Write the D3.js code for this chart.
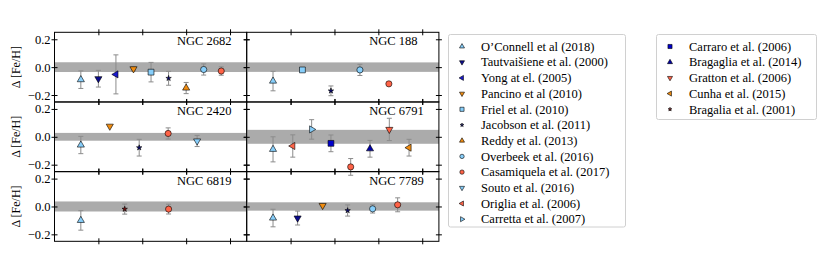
<!DOCTYPE html>
<html>
<head>
<meta charset="utf-8">
<script src="https://cdn.jsdelivr.net/npm/d3@7"></script>
<style>
  body { margin: 0; background: #fff; }
  svg text { font-family: "Liberation Serif", serif; }
</style>
</head>
<body>
<div id="chart"></div>
<script>
// studies, in legend order
var studyKeys = ["oconnell", "tautvaisiene", "yong", "pancino", "friel", "jacobson",
  "reddy", "overbeek", "casamiquela", "souto", "origlia", "carretta",
  "carraro", "bragaglia14", "gratton", "cunha", "bragalia01"];
var studyLabels = ["O’Connell et al (2018)", "Tautvaišiene et al. (2000)", "Yong at el. (2005)",
  "Pancino et al (2010)", "Friel et al. (2010)", "Jacobson et al. (2011)", "Reddy et al. (2013)",
  "Overbeek et al. (2016)", "Casamiquela et al. (2017)", "Souto et al. (2016)",
  "Origlia et al. (2006)", "Carretta et al. (2007)", "Carraro et al. (2006)",
  "Bragaglia et al. (2014)", "Gratton et al. (2006)", "Cunha et al. (2015)", "Bragalia et al. (2001)"];

var clusters = ["NGC 2682", "NGC 188", "NGC 2420", "NGC 6791", "NGC 6819", "NGC 7789"];
// half width of the grey band around zero, per cluster
var bandHalf = [0.035, 0.034, 0.028, 0.05, 0.036, 0.03];

// [study, x position, delta [Fe/H], error]
var ngc2682 = [["oconnell", 0.6, -0.09, 0.063], ["tautvaisiene", 1.0, -0.083, 0.06],
  ["yong", 1.4, -0.052, 0.14], ["pancino", 1.8, -0.012, 0.015], ["friel", 2.2, -0.036, 0.07],
  ["jacobson", 2.6, -0.08, 0.05], ["reddy", 3.0, -0.15, 0.04], ["overbeek", 3.4, -0.017, 0.04],
  ["casamiquela", 3.8, -0.028, 0.03]];
var ngc188 = [["oconnell", 0.6, -0.10, 0.07], ["friel", 1.27, -0.02, 0],
  ["jacobson", 1.92, -0.17, 0.035], ["overbeek", 2.58, -0.02, 0.04], ["casamiquela", 3.24, -0.12, 0]];
var ngc2420 = [["oconnell", 0.6, -0.059, 0.062], ["pancino", 1.26, 0.076, 0],
  ["jacobson", 1.93, -0.078, 0.06], ["casamiquela", 2.59, 0.024, 0.04], ["souto", 3.25, -0.03, 0.04]];
var ngc6791 = [["oconnell", 0.6, -0.09, 0.09], ["origlia", 1.05, -0.066, 0.08],
  ["carretta", 1.48, 0.053, 0.07], ["carraro", 1.92, -0.047, 0.06], ["casamiquela", 2.37, -0.216, 0.06],
  ["bragaglia14", 2.81, -0.086, 0.06], ["gratton", 3.25, 0.053, 0.08], ["cunha", 3.70, -0.078, 0.06]];
var ngc6819 = [["oconnell", 0.6, -0.10, 0.07], ["bragalia01", 1.6, -0.019, 0.036],
  ["casamiquela", 2.6, -0.019, 0.035]];
var ngc7789 = [["oconnell", 0.6, -0.083, 0.063], ["tautvaisiene", 1.16, -0.083, 0.05],
  ["pancino", 1.73, 0.007, 0], ["jacobson", 2.30, -0.029, 0.04], ["overbeek", 2.87, -0.017, 0.03],
  ["casamiquela", 3.44, 0.012, 0.05]];
var clusterData = [ngc2682, ngc188, ngc2420, ngc6791, ngc6819, ngc7789];

var yTicks = [-0.2, 0.0, 0.2];
var xTicks = [1, 2, 3, 4];

// marker styles
var style = {
  oconnell:     {shape: "tri", rot: 0,   fill: "#87cefa"},
  tautvaisiene: {shape: "tri", rot: 180, fill: "#0b0b8c"},
  yong:         {shape: "tri", rot: -90, fill: "#1a1acc"},
  pancino:      {shape: "tri", rot: 180, fill: "#f08c10"},
  friel:        {shape: "sq",  rot: 0,   fill: "#87cefa"},
  jacobson:     {shape: "star",rot: 0,   fill: "#0a0a70"},
  reddy:        {shape: "tri", rot: 0,   fill: "#f08c10"},
  overbeek:     {shape: "circ",rot: 0,   fill: "#87cefa"},
  casamiquela:  {shape: "circ",rot: 0,   fill: "#ff6347"},
  souto:        {shape: "tri", rot: 180, fill: "#87cefa"},
  origlia:      {shape: "tri", rot: -90, fill: "#ff6347"},
  carretta:     {shape: "tri", rot: 90,  fill: "#87cefa"},
  carraro:      {shape: "sq",  rot: 0,   fill: "#0000cc"},
  bragaglia14:  {shape: "tri", rot: 0,   fill: "#0000a8"},
  gratton:      {shape: "tri", rot: 180, fill: "#ff6347"},
  cunha:        {shape: "tri", rot: -90, fill: "#f08c10"},
  bragalia01:   {shape: "star",rot: 0,   fill: "#7a1010"}
};
var symType = {tri: d3.symbolTriangle, sq: d3.symbolSquare, star: d3.symbolStar, circ: d3.symbolCircle};
var symSize = {tri: 22, sq: 34, star: 9, circ: 30};

var W = 830, H = 275;
var svg = d3.select("#chart").append("svg").attr("width", W).attr("height", H);
svg.append("rect").attr("width", W).attr("height", H).attr("fill", "#fff");

var left0 = 54.5, panelW = 192.2, top0 = 32.3, panelH = 69.67;

var x = d3.scaleLinear().domain([0, 4.38]).range([0, panelW]);
var y = d3.scaleLinear().domain([-0.25, 0.25]).range([panelH, 0]);

function marker(sel, key, scale) {
  var s = style[key];
  sel.append("path")
    .attr("d", d3.symbol().type(symType[s.shape]).size(symSize[s.shape] * scale)())
    .attr("transform", "rotate(" + s.rot + ")")
    .attr("fill", s.fill)
    .attr("stroke", "#000")
    .attr("stroke-width", 0.6);
}

clusters.forEach(function(name, i) {
  var col = i % 2, row = Math.floor(i / 2);
  var g = svg.append("g")
    .attr("transform", "translate(" + (left0 + col * panelW) + "," + (top0 + row * panelH) + ")");

  g.append("rect")
    .attr("x", 0).attr("width", panelW)
    .attr("y", y(bandHalf[i])).attr("height", y(-bandHalf[i]) - y(bandHalf[i]))
    .attr("fill", "#ababab");

  // error bars
  var pts = clusterData[i];
  pts.filter(function(d) { return d[3] > 0; }).forEach(function(d) {
    var px = x(d[1]), y1 = y(d[2] + d[3]), y2 = y(d[2] - d[3]);
    var eb = g.append("g").attr("stroke", "#8c8c8c").attr("stroke-width", 1);
    eb.append("line").attr("x1", px).attr("x2", px).attr("y1", y1).attr("y2", y2);
    eb.append("line").attr("x1", px - 2.5).attr("x2", px + 2.5).attr("y1", y1).attr("y2", y1);
    eb.append("line").attr("x1", px - 2.5).attr("x2", px + 2.5).attr("y1", y2).attr("y2", y2);
  });

  pts.forEach(function(d) {
    var m = g.append("g").attr("transform", "translate(" + x(d[1]) + "," + y(d[2]) + ")");
    marker(m, d[0], 1);
  });

  // axes: inout ticks on all four sides
  var ax = [
    d3.axisLeft(y).tickValues(yTicks),
    d3.axisRight(y).tickValues(yTicks).tickFormat(""),
    d3.axisBottom(x).tickValues(xTicks).tickFormat(""),
    d3.axisTop(x).tickValues(xTicks).tickFormat("")
  ];
  var pos = ["translate(0,0)", "translate(" + panelW + ",0)", "translate(0," + panelH + ")", "translate(0,0)"];
  ax.forEach(function(a, k) {
    var ag = g.append("g").attr("transform", pos[k])
      .call(a.tickSizeInner(3).tickSizeOuter(0).tickPadding(4));
    ag.attr("font-family", null);
    ag.select(".domain").remove();
    ag.selectAll(".tick line")
      .attr(k < 2 ? "x1" : "y1", k === 0 || k === 3 ? 3 : -3)
      .attr("stroke", "#000");
    ag.selectAll("text")
      .style("font-size", "12.5px")
      .attr("fill", "#000");
    if (col === 1 || k > 0) ag.selectAll("text").remove();
    else ag.selectAll("text").attr("x", -4).text(function(v) { return d3.format(".1f")(v).replace("-", "−"); });
  });

  g.append("rect").attr("width", panelW).attr("height", panelH)
    .attr("fill", "none").attr("stroke", "#000").attr("stroke-width", 1);

  g.append("text")
    .attr("x", 122.5).attr("y", 13)
    .attr("font-size", "12.5px")
    .text(name);

  if (col === 0) {
    g.append("text")
      .attr("transform", "translate(" + (-34.5) + "," + (panelH / 2) + ") rotate(-90)")
      .attr("text-anchor", "middle")
      .attr("font-size", "12px")
      .text("Δ [Fe/H]");
  }
});

// legends
function legend(keys, lx, ly, w, h) {
  var lg = svg.append("g").attr("transform", "translate(" + lx + "," + ly + ")");
  lg.append("rect").attr("width", w).attr("height", h).attr("rx", 2)
    .attr("fill", "#fff").attr("stroke", "#d0d0d0").attr("stroke-width", 1);
  keys.forEach(function(k, j) {
    var ey = 12 + j * 15.7;
    var m = lg.append("g").attr("transform", "translate(13.5," + ey + ")");
    marker(m, k, 0.5);
    lg.append("text").attr("x", 32.5).attr("y", ey + 4.2)
      .attr("font-size", "12.5px")
      .text(studyLabels[studyKeys.indexOf(k)]);
  });
}
legend(studyKeys.slice(0, 12), 448.5, 34.5, 177, 192.5);
legend(studyKeys.slice(12), 656.5, 34.5, 160, 85);
</script>
</body>
</html>
